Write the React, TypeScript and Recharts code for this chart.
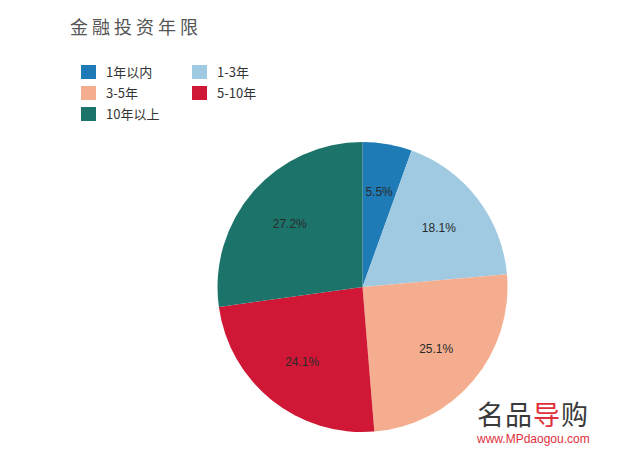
import React from "react";
import { PieChart, Pie, Cell } from "recharts";

const categories = ["1年以内", "1-3年", "3-5年", "5-10年", "10年以上"];
const shares = [5.5, 18.1, 25.1, 24.1, 27.2];
const colors = ["#1f7bb6", "#9fcae1", "#f4ae8f", "#d01836", "#1b736a"];

const data = categories.map((name, i) => ({ name, value: shares[i] }));

const RAD = Math.PI / 180;
const renderLabel = (props: any) => {
  const { cx, cy, midAngle, outerRadius, value } = props;
  const r = outerRadius * 0.665;
  const x = cx + r * Math.cos(-midAngle * RAD);
  const y = cy + r * Math.sin(-midAngle * RAD);
  return (
    <text x={x} y={y} fill="#2a2a2a" fontSize={12} textAnchor="middle" dominantBaseline="central" fontFamily="Arial, 'Liberation Sans', sans-serif">
      {value.toFixed(1)}%
    </text>
  );
};

export default function App() {
  return (
    <div style={{ position: "absolute", left: 0, top: 0, width: 624, height: 465, background: "#fff" }}>
      <div style={{ position: "absolute", left: 70, top: 13, fontFamily: "'Noto Sans CJK SC', sans-serif", fontSize: 18, letterSpacing: 4, color: "#555" }}>
        金融投资年限
      </div>
      <div style={{ position: "absolute", left: 81, top: 64, display: "grid", gridTemplateColumns: "111px 100px", rowGap: 6, fontFamily: "'Noto Sans CJK SC', Arial, sans-serif", fontSize: 13, color: "#333" }}>
        {data.map((d, i) => (
          <div key={d.name} style={{ display: "flex", alignItems: "center", height: 15 }}>
            <span style={{ display: "inline-block", width: 15, height: 14, background: colors[i], marginRight: 10 }} />
            <span style={{ lineHeight: "15px" }}>{d.name}</span>
          </div>
        ))}
      </div>
      <div style={{ position: "absolute", left: 0, top: 0 }}>
        <PieChart width={624} height={465} margin={{ top: 0, right: 0, bottom: 0, left: 0 }}>
          <Pie
            data={data}
            dataKey="value"
            nameKey="name"
            cx={362.5}
            cy={287}
            outerRadius={145}
            startAngle={90}
            endAngle={-270}
            stroke="none"
            label={renderLabel}
            labelLine={false}
            isAnimationActive={false}
          >
            {data.map((d, i) => (
              <Cell key={d.name} fill={colors[i]} />
            ))}
          </Pie>
        </PieChart>
      </div>
      <div style={{ position: "absolute", left: 477, top: 400, fontFamily: "'Noto Sans CJK SC', sans-serif", fontSize: 27, fontWeight: 400, color: "#3a3a3a", letterSpacing: 1, lineHeight: "28px", height: 28 }}>
        名品<span style={{ color: "#e0303c" }}>导</span>购
      </div>
      <div style={{ position: "absolute", left: 477, top: 433, fontFamily: "Arial, 'Liberation Sans', sans-serif", fontSize: 12, lineHeight: "13px", color: "#e0303c" }}>
        www.MPdaogou.com
      </div>
    </div>
  );
}
